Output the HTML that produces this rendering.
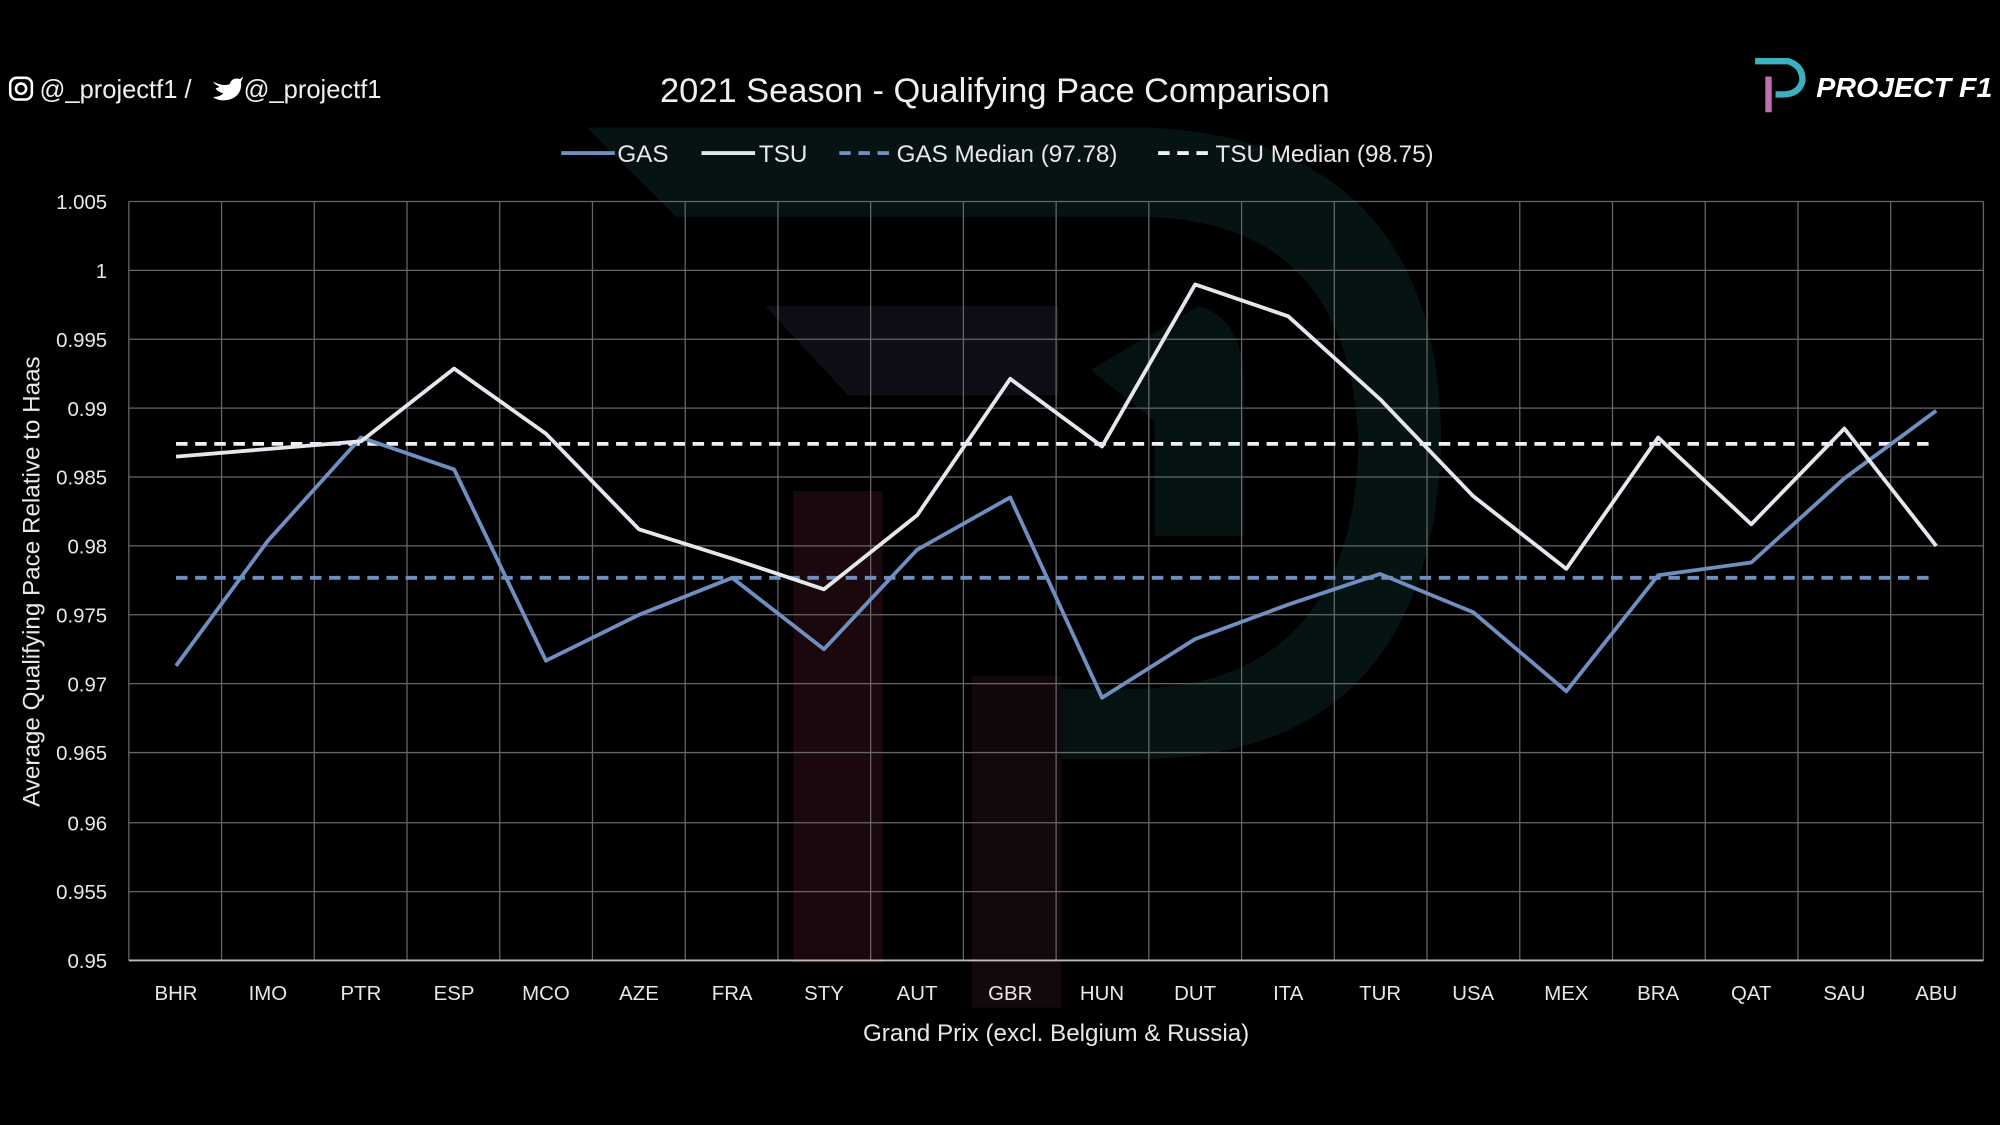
<!DOCTYPE html>
<html><head><meta charset="utf-8"><style>
html,body{margin:0;padding:0;background:#000;}
svg{display:block;}
</style></head><body>
<svg width="2000" height="1125" viewBox="0 0 1568 882" preserveAspectRatio="none" xmlns="http://www.w3.org/2000/svg" font-family="Liberation Sans, sans-serif">
<rect width="1568" height="882" fill="#000"/>
<g opacity="0.25">
<path d="M460 100 L900 100 Q1130 110 1130 350 Q1120 590 900 595 L830 595 L830 540 L900 540 Q1060 530 1065 350 Q1060 175 900 170 L530 170 Z" fill="#124a48"/>
<path d="M600 240 L830 240 L830 310 L665 310 Z" fill="#3a3a5a"/>
<path d="M855 290 L940 240 Q975 250 975 300 L975 420 L905 420 L905 330 Z" fill="#124a48"/>
<rect x="622" y="385" width="70" height="370" fill="#6b2030"/>
<rect x="762" y="530" width="70" height="260" fill="#4a1e2e"/>
</g>
<g stroke="#666" stroke-width="1">
<line x1="101" y1="158" x2="1555" y2="158"/>
<line x1="101" y1="212" x2="1555" y2="212"/>
<line x1="101" y1="266" x2="1555" y2="266"/>
<line x1="101" y1="320" x2="1555" y2="320"/>
<line x1="101" y1="374" x2="1555" y2="374"/>
<line x1="101" y1="428" x2="1555" y2="428"/>
<line x1="101" y1="482" x2="1555" y2="482"/>
<line x1="101" y1="536" x2="1555" y2="536"/>
<line x1="101" y1="590" x2="1555" y2="590"/>
<line x1="101" y1="645" x2="1555" y2="645"/>
<line x1="101" y1="699" x2="1555" y2="699"/>
<line x1="101.0" y1="158" x2="101.0" y2="753"/><line x1="173.7" y1="158" x2="173.7" y2="753"/><line x1="246.4" y1="158" x2="246.4" y2="753"/><line x1="319.1" y1="158" x2="319.1" y2="753"/><line x1="391.8" y1="158" x2="391.8" y2="753"/><line x1="464.5" y1="158" x2="464.5" y2="753"/><line x1="537.2" y1="158" x2="537.2" y2="753"/><line x1="609.9" y1="158" x2="609.9" y2="753"/><line x1="682.6" y1="158" x2="682.6" y2="753"/><line x1="755.3" y1="158" x2="755.3" y2="753"/><line x1="828.0" y1="158" x2="828.0" y2="753"/><line x1="900.7" y1="158" x2="900.7" y2="753"/><line x1="973.4" y1="158" x2="973.4" y2="753"/><line x1="1046.1" y1="158" x2="1046.1" y2="753"/><line x1="1118.8" y1="158" x2="1118.8" y2="753"/><line x1="1191.5" y1="158" x2="1191.5" y2="753"/><line x1="1264.2" y1="158" x2="1264.2" y2="753"/><line x1="1336.9" y1="158" x2="1336.9" y2="753"/><line x1="1409.6" y1="158" x2="1409.6" y2="753"/><line x1="1482.3" y1="158" x2="1482.3" y2="753"/><line x1="1555" y1="158" x2="1555" y2="753"/>
</g>
<line x1="101" y1="753" x2="1555" y2="753" stroke="#bbb" stroke-width="1.5"/>
<g fill="#e8e8e8" font-size="16" text-anchor="end">
<text x="84" y="164">1.005</text><text x="84" y="218">1</text><text x="84" y="272">0.995</text><text x="84" y="326">0.99</text><text x="84" y="380">0.985</text><text x="84" y="434">0.98</text><text x="84" y="488">0.975</text><text x="84" y="542">0.97</text><text x="84" y="596">0.965</text><text x="84" y="651">0.96</text><text x="84" y="705">0.955</text><text x="84" y="759">0.95</text>
</g>
<g fill="#e8e8e8" font-size="16" text-anchor="middle">
<text x="138" y="784">BHR</text><text x="210" y="784">IMO</text><text x="283" y="784">PTR</text><text x="356" y="784">ESP</text><text x="428" y="784">MCO</text><text x="501" y="784">AZE</text><text x="574" y="784">FRA</text><text x="646" y="784">STY</text><text x="719" y="784">AUT</text><text x="792" y="784">GBR</text><text x="864" y="784">HUN</text><text x="937" y="784">DUT</text><text x="1010" y="784">ITA</text><text x="1082" y="784">TUR</text><text x="1155" y="784">USA</text><text x="1228" y="784">MEX</text><text x="1300" y="784">BRA</text><text x="1373" y="784">QAT</text><text x="1446" y="784">SAU</text><text x="1518" y="784">ABU</text>
</g>
<text x="828" y="816" fill="#e8e8e8" font-size="19" text-anchor="middle">Grand Prix (excl. Belgium &amp; Russia)</text>
<text transform="translate(31,456) rotate(-90)" fill="#e8e8e8" font-size="19" text-anchor="middle">Average Qualifying Pace Relative to Haas</text>
<line x1="138" y1="348" x2="1518" y2="348" stroke="#f0f0f5" stroke-width="3" stroke-dasharray="9,6"/>
<line x1="138" y1="453" x2="1518" y2="453" stroke="#6f8fc0" stroke-width="3" stroke-dasharray="9,6"/>
<polyline fill="none" stroke="#6f8fc0" stroke-width="3" stroke-linejoin="round" points="138,522 210,424 283,343 356,368 428,518 501,482 574,453 646,509 719,431 792,390 864,547 937,501 1010,474 1082,450 1155,480 1228,542 1300,451 1373,441 1446,375 1518,322"/>
<polyline fill="none" stroke="#e6e6ee" stroke-width="3" stroke-linejoin="round" points="138,358 210,352 283,346 356,289 428,340 501,415 574,438 646,462 719,404 792,297 864,350 937,223 1010,248 1082,313 1155,389 1228,446 1300,343 1373,411 1446,336 1518,428"/>
<g font-size="19" fill="#e8e8e8">
<line x1="440" y1="120" x2="482" y2="120" stroke="#6f8fc0" stroke-width="3"/><text x="484" y="127">GAS</text>
<line x1="550" y1="120" x2="592" y2="120" stroke="#e6e6ee" stroke-width="3"/><text x="595" y="127">TSU</text>
<line x1="658" y1="120" x2="700" y2="120" stroke="#6f8fc0" stroke-width="3" stroke-dasharray="9,6"/><text x="703" y="127">GAS Median (97.78)</text>
<line x1="908" y1="120" x2="950" y2="120" stroke="#f0f0f5" stroke-width="3" stroke-dasharray="9,6"/><text x="953" y="127">TSU Median (98.75)</text>
</g>
<text x="780" y="80" fill="#f0f0f0" font-size="27" text-anchor="middle">2021 Season - Qualifying Pace Comparison</text>
<rect x="8" y="61" width="17" height="17" rx="5" fill="none" stroke="#fff" stroke-width="2"/><circle cx="16.5" cy="69.5" r="4" fill="none" stroke="#fff" stroke-width="2"/>
<text x="31" y="77" fill="#f0f0f0" font-size="20">@_projectf1 /</text>
<path d="M167 64 Q175 68 180 66 Q182 60 188 62 L191 60 L189 64 Q190 75 180 78 Q172 80 167 76 Q173 76 175 73 Q170 72 169 69 Q171 69 172 68 Q168 66 167 64Z" fill="#fff"/>
<text x="191" y="77" fill="#f0f0f0" font-size="20">@_projectf1</text>
<path d="M1376 48 L1402 48 Q1414 52 1413 64 Q1410 74 1398 74 L1392 74" fill="none" stroke="#3ab0c0" stroke-width="5"/>
<rect x="1384" y="60" width="5" height="28" fill="#c070b0"/>
<text x="1424" y="76" fill="#fff" font-size="22" font-weight="bold" font-style="italic" textLength="138" lengthAdjust="spacingAndGlyphs">PROJECT F1</text>
</svg>
</body></html>
